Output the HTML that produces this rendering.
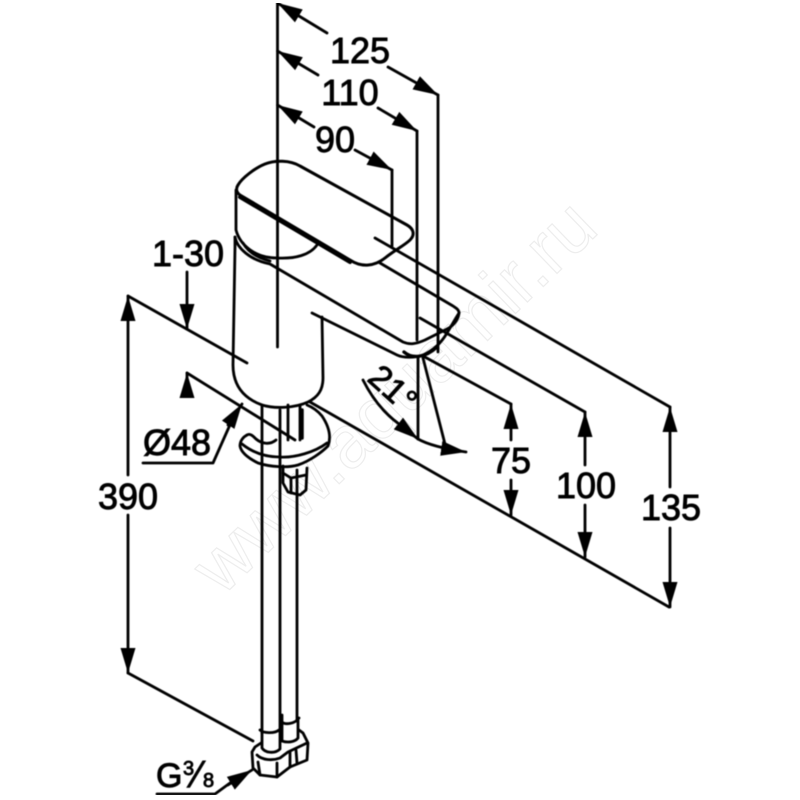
<!DOCTYPE html>
<html><head><meta charset="utf-8"><title>Faucet dimensions</title>
<style>html,body{margin:0;padding:0;background:#fff}svg{display:block}
text{font-family:"Liberation Sans",sans-serif;fill:#000;stroke:#000;stroke-width:.9}
.wm{font-size:74px;fill:#fff;stroke:#ededed;stroke-width:1.2}</style></head>
<body>
<svg width="800" height="800" viewBox="0 0 800 800" xmlns="http://www.w3.org/2000/svg">
<defs>
<marker id="a" markerUnits="userSpaceOnUse" markerWidth="30" markerHeight="20" refX="25" refY="10" orient="auto-start-reverse"><path d="M0,2.5 L25,10 L0,17.5 z" fill="#000"/></marker>
<filter id="b" x="0" y="0" width="100%" height="100%"><feGaussianBlur stdDeviation="0.6"/></filter>
</defs>
<text class="wm" x="0" y="0" transform="translate(222,597) rotate(-44)">www.aquamir.ru</text>
<g filter="url(#b)">
<g fill="none" stroke="#000" stroke-width="2.8" stroke-linejoin="round" stroke-linecap="round">
<!-- dimension axis -->
<path d="M277.5,3 V347"/>
<path d="M277.5,3 L327,33" marker-start="url(#a)"/>
<path d="M388,67 L438,95" marker-end="url(#a)"/>
<path d="M438,95 V352"/>
<path d="M277.5,51 L318,75" marker-start="url(#a)"/>
<path d="M378,108 L417,131" marker-end="url(#a)"/>
<path d="M417,131 V340"/>
<path d="M277.5,105 L314,127" marker-start="url(#a)"/>
<path d="M355,150 L392,170" marker-end="url(#a)"/>
<path d="M392,170 V246"/>
<!-- extension lines -->
<path d="M375,238 L670,407"/>
<path d="M420,318 L585,412"/>
<path d="M423,356 L511,404"/>
<path d="M128,296 L247,363"/>
<path d="M310,402 L669,607"/>
<path d="M187,373 L295,440"/>
<path d="M128,673 L253,741"/>
<!-- vertical dims -->
<path d="M670,487 V407" marker-end="url(#a)"/>
<path d="M670,528 V607" marker-end="url(#a)"/>
<path d="M585,465 V412" marker-end="url(#a)"/>
<path d="M585,505 V557" marker-end="url(#a)"/>
<path d="M511,440 V404" marker-end="url(#a)"/>
<path d="M511,480 V515" marker-end="url(#a)"/>
<path d="M128,475 V296" marker-end="url(#a)"/>
<path d="M128,515 V673" marker-end="url(#a)"/>
<path d="M187,272 V329" marker-end="url(#a)"/>
<path d="M187,396 V373" marker-end="url(#a)"/>
<!-- Ø48 leader -->
<path d="M143,463 H213 L233,418"/>
<path d="M228,425 L242,404" marker-end="url(#a)"/>
<!-- G leader -->
<path d="M157,794 H215 L230,783"/>
<path d="M228,785 L252,770" marker-end="url(#a)"/>
<!-- angle -->
<path d="M418,358 V439"/>
<path d="M423,358 L446,448"/>
<path d="M363,380 Q377,408 399,424 L418,439" marker-end="url(#a)"/>
<path d="M418,439 Q432,447 466,452" marker-end="url(#a)"/>
<!-- handle -->
<path d="M240,195 C236,192 236,188 238,185 C242,178 255,168 265,164 C275,160 290,160 300,166 L407,225 C414,229 415,235 410,240 C405,245 395,250 385,258 C375,266 362,268 350,260 Z" stroke-width="3"/>
<path d="M240,197 L350,262" stroke-width="4"/>
<path d="M236,190 V230 C240,245 255,258 277,258 C295,259 310,255 317,245"/>
<!-- body -->
<path d="M235,237 V247 L233,365 C233,385 243,398 262,405 C275,409 295,408 308,402 C318,397 323,390 323,378 L322,317"/>
<path d="M235,237 C237,248 250,260 270,264 L403,342 C410,345 416,344 425,340 L447,329 C455,325 459,318 459,312 C458,309 456,308 453,306 L380,263"/>
<path d="M243,243 C248,252 258,258 270,261"/>
<path d="M312,313 L397,355 C403,358 415,358 423,355 C432,351 440,345 447,333 L459,313"/>
<path d="M404,352 C412,359 425,358 437,347" stroke-width="3.4"/>
<!-- below body -->
<path d="M262,405 V733 M280,410 V731 M288,405 V440 M300,405 V440 M297,470 V720 M282,715 V722"/>
<path d="M302,410 V438" stroke-width="3.5"/>
<!-- horseshoe -->
<path d="M247,435 C243,437 240,441 240,446 C241,452 248,458 258,463 C270,467 288,468 298,465 C310,461 322,452 328,446 C331,438 330,428 322,416 C317,410 312,407 307,405"/>
<path d="M247,435 C250,433 253,436 256,439 C262,444 270,445 276,440"/>
<path d="M242,444 C252,452 265,457 280,457 C295,458 315,452 327,443"/>
<!-- small nut -->
<path d="M283,466 V483 L288,492 L300,495 L306,490 L307,468"/>
<path d="M283,473 L291,478 L306,475 M291,478 V493"/>
<!-- bottom nuts -->
<path d="M260,730 C263,733 274,734 279,730 M262,731 V748 C265,753 275,754 280,749 V731"/>
<path d="M282,722 C285,725 295,724 299,718 M282,722 V741 C288,743 295,742 298,738 V720"/>
<path d="M299,730 L303,733 L308,743 L307,760 L290,767 L277,777 L260,775 L253,768 L252,752 L255,747 L261,743"/>
<path d="M257,755 C262,760 272,761 280,758 L288,752 L307,743"/>
<path d="M258,762 L260,775 M277,763 V777 M290,752 V767 M296,750 L297,763"/>
</g>
<text x="360" y="63" font-size="36" text-anchor="middle">125</text>
<text x="350" y="105" font-size="36" text-anchor="middle">110</text>
<text x="335" y="152" font-size="36" text-anchor="middle">90</text>
<text x="188" y="266" font-size="36" text-anchor="middle">1-30</text>
<text x="128" y="509" font-size="36" text-anchor="middle">390</text>
<text x="177" y="455" font-size="36" text-anchor="middle">Ø48</text>
<text x="511" y="473" font-size="36" text-anchor="middle">75</text>
<text x="586" y="498" font-size="36" text-anchor="middle">100</text>
<text x="671" y="520" font-size="36" text-anchor="middle">135</text>
<text x="156" y="787" font-size="34">G</text>
<text x="183" y="775" font-size="20">3</text>
<text x="0" y="0" font-size="36" transform="translate(187,787) skewX(-18)">/</text>
<text x="203" y="787" font-size="20">8</text>
<text x="0" y="0" font-size="34" transform="translate(366,380) rotate(42)">21°</text>
</g>
</svg>
</body></html>
